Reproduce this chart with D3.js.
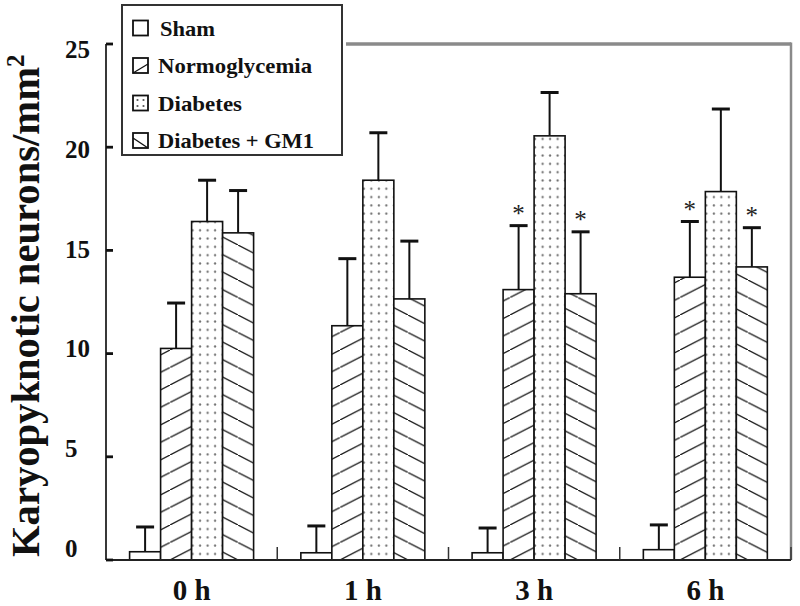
<!DOCTYPE html>
<html>
<head>
<meta charset="utf-8">
<script src="https://cdn.jsdelivr.net/npm/d3@7/dist/d3.min.js"></script>
<style>
  html, body { margin: 0; padding: 0; background: #fff; }
  svg { display: block; }
  text { font-family: "Liberation Serif", "Times New Roman", serif; }
</style>
</head>
<body>
<svg id="chart" width="800" height="606"></svg>
<script>
// ---- data ----
const categories = ["0 h", "1 h", "3 h", "6 h"];
const seriesNames = ["Sham", "Normoglycemia", "Diabetes", "Diabetes + GM1"];
const shamMean  = [0.4, 0.35, 0.35, 0.5];
const shamErr   = [1.2, 1.3, 1.2, 1.2];
const normoMean = [10.25, 11.35, 13.1, 13.7];
const normoErr  = [2.2, 3.25, 3.1, 2.7];
const diabMean  = [16.4, 18.4, 20.55, 17.85];
const diabErr   = [2.0, 2.3, 2.1, 4.0];
const gm1Mean   = [15.85, 12.65, 12.9, 14.2];
const gm1Err    = [2.05, 2.8, 3.0, 1.9];
const normoSig  = [false, false, true, true];
const gm1Sig    = [false, false, true, true];
const yTicks    = [0, 5, 10, 15, 20, 25];
const yLabel    = "Karyopyknotic neurons/mm";

const means = [shamMean, normoMean, diabMean, gm1Mean];
const errs  = [shamErr, normoErr, diabErr, gm1Err];
const sigs  = [null, normoSig, null, gm1Sig];

// ---- layout ----
const L = 106, R = 791, T = 44, B = 560;
const svg = d3.select("#chart");

const x0 = d3.scaleBand().domain(categories).range([L, R]).padding(0);
const x1 = d3.scaleBand().domain(seriesNames).range([23.6, 147.6]).padding(0);
const y  = d3.scaleLinear().domain([0, 25]).range([B, T]);
const yLab = d3.scaleLinear().domain([0, 25]).range([548.5, 49.5]);

const defs = svg.append("defs");
// hatch patterns
function hatch(id, up) {
  const p = defs.append("pattern").attr("id", id)
    .attr("patternUnits", "userSpaceOnUse").attr("width", 34).attr("height", 17.5);
  p.append("rect").attr("width", 34).attr("height", 17.5).attr("fill", "#fff");
  const l = up ? [0, 17.5, 34, 0] : [0, 0, 34, 17.5];
  p.append("line").attr("x1", l[0]).attr("y1", l[1]).attr("x2", l[2]).attr("y2", l[3])
    .attr("stroke", "#1a1a1a").attr("stroke-width", 1.3);
}
hatch("hatchUp", true);
hatch("hatchDown", false);
// dot patterns, one per category so columns align in each bar
categories.forEach((c, i) => {
  const bx = x0(c) + x1("Diabetes");
  const p = defs.append("pattern").attr("id", "dots" + i)
    .attr("patternUnits", "userSpaceOnUse").attr("width", 7.5).attr("height", 8.3)
    .attr("x", bx + 4.75).attr("y", 2);
  p.append("rect").attr("width", 7.5).attr("height", 8.3).attr("fill", "#fff");
  p.append("circle").attr("cx", 3.75).attr("cy", 4.15).attr("r", 1.15).attr("fill", "#707070");
});
const fillFor = (si, ci) => si === 0 ? "#fff" : si === 1 ? "url(#hatchUp)" : si === 2 ? "url(#dots" + ci + ")" : "url(#hatchDown)";

// ---- bars ----
const bw = x1.bandwidth();
seriesNames.forEach((s, si) => {
  const g = svg.append("g");
  categories.forEach((c, ci) => {
    const v = means[si][ci], e = errs[si][ci];
    const bx = x0(c) + x1(s);
    const cx = bx + bw / 2;
    // error bar
    g.append("line").attr("x1", cx).attr("x2", cx).attr("y1", y(v)).attr("y2", y(v + e))
      .attr("stroke", "#111").attr("stroke-width", 2);
    g.append("line").attr("x1", cx - 9).attr("x2", cx + 9).attr("y1", y(v + e)).attr("y2", y(v + e))
      .attr("stroke", "#111").attr("stroke-width", 3);
    g.append("rect").attr("x", bx).attr("y", y(v)).attr("width", bw).attr("height", y(0) - y(v))
      .attr("fill", fillFor(si, ci)).attr("stroke", "#111").attr("stroke-width", 1.6);
    if (sigs[si] && sigs[si][ci]) {
      g.append("text").attr("x", cx).attr("y", y(v + e) - 4).attr("text-anchor", "middle")
        .attr("font-size", 25).attr("fill", "#222").text("*");
    }
  });
});

// ---- frame / axes ----
const legX = 122, legY = 5, legW = 220, legH = 150;
svg.append("line").attr("x1", legX + legW + 4).attr("x2", R).attr("y1", T).attr("y2", T)
  .attr("stroke", "#8a8a8a").attr("stroke-width", 3.5);
svg.append("line").attr("x1", R).attr("x2", R).attr("y1", T - 1.5).attr("y2", B)
  .attr("stroke", "#8a8a8a").attr("stroke-width", 2.5);
svg.append("line").attr("x1", L).attr("x2", R).attr("y1", B).attr("y2", B)
  .attr("stroke", "#222").attr("stroke-width", 2);
svg.append("line").attr("x1", L).attr("x2", L).attr("y1", T).attr("y2", B)
  .attr("stroke", "#222").attr("stroke-width", 1.8);
yTicks.forEach(v => {
  svg.append("line").attr("x1", L).attr("x2", L + 7).attr("y1", y(v)).attr("y2", y(v))
    .attr("stroke", "#111").attr("stroke-width", 2.8);
  svg.append("text").attr("x", 65).attr("y", yLab(v) + 8.5)
    .attr("font-size", 25).attr("font-weight", "bold").attr("fill", "#111").text(v);
});
categories.forEach(c => {
  const xx = x0(c) + x0.bandwidth();
  svg.append("line").attr("x1", xx).attr("x2", xx).attr("y1", B).attr("y2", B - 13)
    .attr("stroke", "#333").attr("stroke-width", 1.5);
  svg.append("text").attr("x", x0(c) + x0.bandwidth() / 2).attr("y", 600)
    .attr("text-anchor", "middle").attr("font-size", 29).attr("font-weight", "bold")
    .attr("fill", "#111").text(c);
});
const yl = svg.append("text").attr("transform", "translate(39,557) rotate(-90)")
  .attr("font-size", 39).attr("font-weight", "bold").attr("fill", "#111");
yl.append("tspan").attr("textLength", 490).attr("lengthAdjust", "spacingAndGlyphs").text(yLabel);
yl.append("tspan").attr("dy", -15).attr("font-size", 25).text("2");

// ---- legend ----
svg.append("rect").attr("x", legX).attr("y", legY).attr("width", legW).attr("height", legH)
  .attr("fill", "#fff").attr("stroke", "#333").attr("stroke-width", 2);
const legTextLen = [55, 154, 84, 156];
seriesNames.forEach((s, i) => {
  const base = 35.5 + i * 37.5;
  const sx = 133, sy = base - 15, ss = 15;
  svg.append("rect").attr("x", sx).attr("y", sy).attr("width", ss).attr("height", ss)
    .attr("fill", "#fff").attr("stroke", "#111").attr("stroke-width", 1.8);
  if (i === 1) {
    svg.append("line").attr("x1", sx).attr("y1", sy + ss).attr("x2", sx + ss).attr("y2", sy + 6)
      .attr("stroke", "#111").attr("stroke-width", 1.3);
  } else if (i === 3) {
    svg.append("line").attr("x1", sx).attr("y1", sy + 5).attr("x2", sx + ss).attr("y2", sy + ss)
      .attr("stroke", "#111").attr("stroke-width", 1.3);
  } else if (i === 2) {
    [[4.5, 4.5], [10.5, 4.5], [4.5, 10.5], [10.5, 10.5]].forEach(d => {
      svg.append("circle").attr("cx", sx + d[0]).attr("cy", sy + d[1]).attr("r", 1.1).attr("fill", "#555");
    });
  }
  svg.append("text").attr("x", i === 0 ? 160 : 158).attr("y", base)
    .attr("font-size", 22).attr("font-weight", "bold").attr("fill", "#111")
    .attr("textLength", legTextLen[i]).attr("lengthAdjust", "spacingAndGlyphs").text(s);
});
</script>
</body>
</html>
